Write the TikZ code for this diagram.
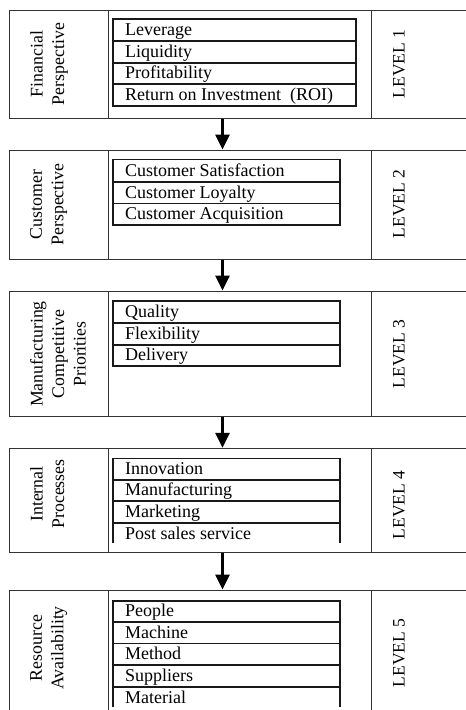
\documentclass[tikz,border=0pt]{standalone}
\usepackage{fontspec}
\setmainfont{Liberation Serif}
\usetikzlibrary{arrows.meta,calc}
\begin{document}
\begin{tikzpicture}[x=1pt,y=-1pt,
  outer/.style={draw=black!80, line width=1pt, rectangle, inner sep=0pt},
  listframe/.style={draw=black!90, line width=1.6pt},
  item/.style={anchor=base west, inner sep=0pt, font=\fontsize{18}{21}\selectfont},
  side/.style={rotate=90, anchor=north, inner sep=0pt, align=center, font=\fontsize{17.8}{21.5}\selectfont},
  lvl/.style={rotate=90, inner sep=0pt, font=\fontsize{17.5}{21}\selectfont},
  flow/.style={line width=3pt, -{Triangle[width=14pt,length=15pt]}}]
\useasboundingbox (0,0) rectangle (466,710);
\clip (0,0) rectangle (466,710);
% level boxes
\node[outer, minimum width=99pt, minimum height=108pt] (l1) at (58.5,64) {};
\node[outer, minimum width=263pt, minimum height=108pt] (m1) at (239.5,64) {};
\node[outer, minimum width=104pt, minimum height=108pt] (r1) at (423,64) {};
\node[outer, minimum width=99pt, minimum height=109pt] (l2) at (58.5,204.5) {};
\node[outer, minimum width=263pt, minimum height=109pt] (m2) at (239.5,204.5) {};
\node[outer, minimum width=104pt, minimum height=109pt] (r2) at (423,204.5) {};
\node[outer, minimum width=99pt, minimum height=125.7pt] (l3) at (58.5,353.85) {};
\node[outer, minimum width=263pt, minimum height=125.7pt] (m3) at (239.5,353.85) {};
\node[outer, minimum width=104pt, minimum height=125.7pt] (r3) at (423,353.85) {};
\node[outer, minimum width=99pt, minimum height=104.4pt] (l4) at (58.5,500.5) {};
\node[outer, minimum width=263pt, minimum height=104.4pt] (m4) at (239.5,500.5) {};
\node[outer, minimum width=104pt, minimum height=104.4pt] (r4) at (423,500.5) {};
\node[outer, minimum width=99pt, minimum height=130pt] (l5) at (58.5,655) {};
\node[outer, minimum width=263pt, minimum height=130pt] (m5) at (239.5,655) {};
\node[outer, minimum width=104pt, minimum height=130pt] (r5) at (423,655) {};
% arrows
\coordinate (ax) at (222.5,0);
\draw[flow] (m1.south -| ax) -- (m2.north -| ax);
\draw[flow] (m2.south -| ax) -- (m3.north -| ax);
\draw[flow] (m3.south -| ax) -- (m4.north -| ax);
\draw[flow] (m4.south -| ax) -- (m5.north -| ax);
% list frames
\draw[listframe] (113,19) rectangle (356,106);
\draw[listframe] (113,40.7) -- (356,40.7) (113,62.7) -- (356,62.7) (113,84) -- (356,84);
\draw[listframe] (113,159.3) rectangle (340,225);
\draw[listframe] (113,181.7) -- (340,181.7) (113,203.3) -- (340,203.3);
\draw[listframe] (113,301) rectangle (340,366);
\draw[listframe] (113,322.7) -- (340,322.7) (113,345) -- (340,345);
\draw[listframe] (113,543) -- (113,458.3) -- (340,458.3) -- (340,543);
\draw[listframe] (113,480) -- (340,480) (113,501) -- (340,501) (113,522.7) -- (340,522.7);
\draw[listframe] (113,707) -- (113,600.7) -- (340,600.7) -- (340,707);
\draw[listframe] (113,621.7) -- (340,621.7) (113,643.3) -- (340,643.3) (113,665) -- (340,665) (113,686.7) -- (340,686.7);
% items
\node[item] (i11) at (125,35.2) {Leverage};
\node[item] (i12) at (125,57.2) {Liquidity};
\node[item] (i13) at (125,78.5) {Profitability};
\node[item] (i14) at (125,100.5) {Return on Investment\ \ (ROI)};
\node[item] (i21) at (125,176.4) {Customer Satisfaction};
\node[item] (i22) at (125,198.1) {Customer Loyalty};
\node[item] (i23) at (125,219.7) {Customer Acquisition};
\node[item] (i31) at (125,317.4) {Quality};
\node[item] (i32) at (125,339.7) {Flexibility};
\node[item] (i33) at (125,360.7) {Delivery};
\node[item] (i41) at (125,474.7) {Innovation};
\node[item] (i42) at (125,495.7) {Manufacturing};
\node[item] (i43) at (125,517.4) {Marketing};
\node[item] (i44) at (125,539.1) {Post sales service};
\node[item] (i51) at (125,616.4) {People};
\node[item] (i52) at (125,638) {Machine};
\node[item] (i53) at (125,659.7) {Method};
\node[item] (i54) at (125,681.4) {Suppliers};
\node[item] (i55) at (125,703) {Material};
% side labels
\node[side] (s1) at (30,64) {Financial\\Perspective};
\node[side] (s2) at (30,204.5) {Customer\\Perspective};
\node[side] (s3) at (30,354) {Manufacturing\\Competitive\\Priorities};
\node[side] (s4) at (30,494) {Internal\\Processes};
\node[side] (s5) at (30,648) {Resource\hspace{14pt}\\Availability};
% level labels
\node[lvl] (v1) at (399,64) {LEVEL 1};
\node[lvl] (v2) at (399,204) {LEVEL 2};
\node[lvl] (v3) at (399,354) {LEVEL 3};
\node[lvl] (v4) at (399,505) {LEVEL 4};
\node[lvl] (v5) at (399,653) {LEVEL 5};
\end{tikzpicture}
\end{document}
